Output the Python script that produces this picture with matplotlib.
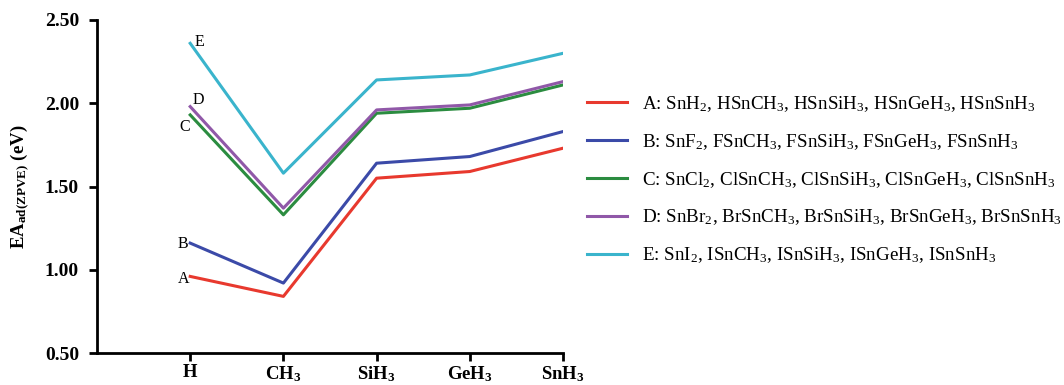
import matplotlib
matplotlib.use("Agg")
import matplotlib.pyplot as plt

plt.rcParams['font.family'] = ['Liberation Serif', 'DejaVu Serif']
plt.rcParams['mathtext.fontset'] = 'custom'
plt.rcParams['mathtext.rm'] = 'Liberation Serif'
plt.rcParams['mathtext.it'] = 'Liberation Serif:italic'
plt.rcParams['mathtext.bf'] = 'Liberation Serif:bold'

groups = ["H", "CH$\\mathregular{_3}$", "SiH$\\mathregular{_3}$", "GeH$\\mathregular{_3}$", "SnH$\\mathregular{_3}$"]
series_names = ["A", "B", "C", "D", "E"]
A = [0.96, 0.84, 1.55, 1.59, 1.73]
B = [1.16, 0.92, 1.64, 1.68, 1.83]
C = [1.93, 1.33, 1.94, 1.97, 2.11]
D = [1.98, 1.37, 1.96, 1.99, 2.13]
E = [2.36, 1.58, 2.14, 2.17, 2.30]
legend_labels = [
    "A: SnH$\\mathregular{_2}$, HSnCH$\\mathregular{_3}$, HSnSiH$\\mathregular{_3}$, HSnGeH$\\mathregular{_3}$, HSnSnH$\\mathregular{_3}$",
    "B: SnF$\\mathregular{_2}$, FSnCH$\\mathregular{_3}$, FSnSiH$\\mathregular{_3}$, FSnGeH$\\mathregular{_3}$, FSnSnH$\\mathregular{_3}$",
    "C: SnCl$\\mathregular{_2}$, ClSnCH$\\mathregular{_3}$, ClSnSiH$\\mathregular{_3}$, ClSnGeH$\\mathregular{_3}$, ClSnSnH$\\mathregular{_3}$",
    "D: SnBr$\\mathregular{_2}$, BrSnCH$\\mathregular{_3}$, BrSnSiH$\\mathregular{_3}$, BrSnGeH$\\mathregular{_3}$, BrSnSnH$\\mathregular{_3}$",
    "E: SnI$\\mathregular{_2}$, ISnCH$\\mathregular{_3}$, ISnSiH$\\mathregular{_3}$, ISnGeH$\\mathregular{_3}$, ISnSnH$\\mathregular{_3}$",
]
colors = ["#e8392e", "#3b4aa8", "#2b8c40", "#9058a8", "#3ab4cc"]
# label offsets (points) for the A-E tags near the first point
tag_offsets = [(-9, -2), (-9, -1), (-8, -9), (2, 5), (3, 1)]

fig = plt.figure(figsize=(10.64, 3.85), dpi=100)
ax = fig.add_axes([97/1064, 1-353/385, (563-97)/1064, (353-20)/385])

x = list(range(len(groups)))
handles = []
for name, vals, col, off in zip(series_names, [A, B, C, D, E], colors, tag_offsets):
    h, = ax.plot(x, vals, color=col, lw=2.2)
    handles.append(h)
    ax.annotate(name, (x[0], vals[0]), xytext=off, textcoords="offset points",
                fontsize=11.5, va="center", ha="left")

ax.set_xlim(-1, 4)
ax.set_ylim(0.5, 2.5)
ax.set_xticks(x)
ax.set_xticklabels(groups, fontweight="bold", fontsize=13.5)
ax.set_yticks([0.5, 1.0, 1.5, 2.0, 2.5])
ax.set_yticklabels(["0.50", "1.00", "1.50", "2.00", "2.50"], fontweight="bold", fontsize=14)
ax.spines["top"].set_visible(False)
ax.spines["right"].set_visible(False)
ax.spines["left"].set_linewidth(2)
ax.spines["bottom"].set_linewidth(2)
ax.tick_params(width=2, length=6, direction="out")
ax.tick_params(axis="y", pad=7)
ax.tick_params(axis="x", pad=2)
ax.set_ylabel("EA$\\mathregular{_{ad(ZPVE)}}$ (eV)", fontweight="bold", fontsize=13.5, labelpad=10)

fig.legend(handles, legend_labels, loc="upper left", bbox_to_anchor=(587/1064, 1-94/385),
           frameon=False, fontsize=13.7, handlelength=2.1, handletextpad=0.8,
           labelspacing=0.95, borderaxespad=0, borderpad=0)

fig.savefig("out.png", dpi=100)
